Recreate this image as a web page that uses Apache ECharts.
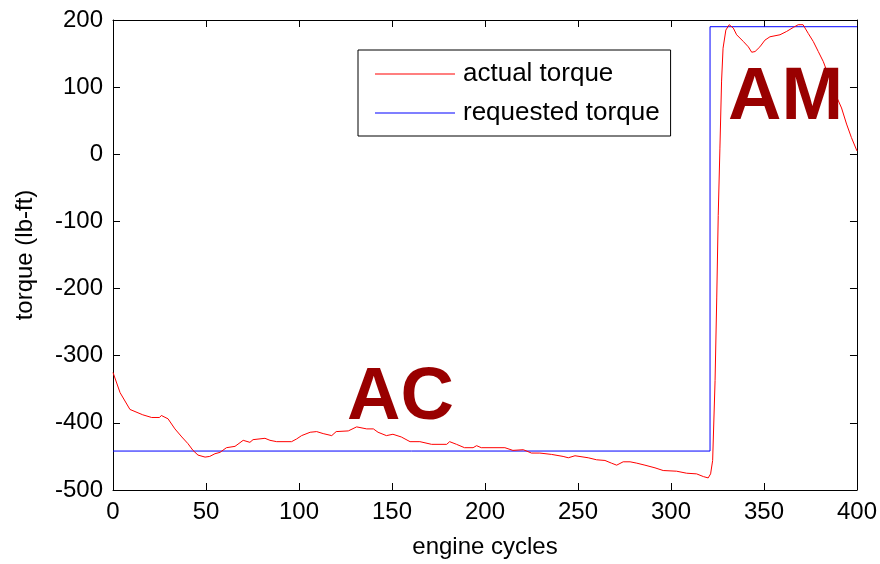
<!DOCTYPE html>
<html>
<head>
<meta charset="utf-8">
<script src="https://cdn.jsdelivr.net/npm/echarts@6/dist/echarts.min.js"></script>
<style>
  html, body { margin: 0; padding: 0; background: #fff; }
  #chart { width: 880px; height: 564px; }
</style>
</head>
<body>
<div id="chart"></div>
<script>
// actual torque (engine cycle, lb-ft)
const actualX = [0, 3.8, 9.1, 16, 20.8, 25, 26, 29.6, 33.3, 37, 40.3, 43, 45.7, 49.5, 52, 54.8, 57.5, 61, 65.6, 70,
  73.6, 75.3, 81.7, 84.4, 88, 96, 98.7, 101.4, 106, 109.5, 113, 117.6, 120, 126.5, 131, 136.4, 140, 142.5, 147, 150.5,
  155, 159.7, 165, 171.3, 179.4, 181, 184.7, 189, 193.6, 195.5, 198, 210.7, 215, 220.6, 225, 229.5, 235.8, 242, 244.8, 248.4,
  255.5, 260, 264.5, 268, 270.8, 274.3, 278, 281.6, 286, 291.4, 295.8, 303, 308.4, 313.8, 317.4, 320, 321.3, 322.4, 323.7, 324.6,
  325.4, 326.3, 327.2, 328, 329.5, 331.3, 333.5, 335.3, 338.9, 341.6, 343.4, 345.2, 347.8, 350.5, 353.2, 358.6, 362.2, 365.8, 368.4, 371,
  373.8, 376.5, 379.2, 381.9, 385, 388, 391.7, 394.4, 397, 400];
const actualY = [-325, -355, -380, -388, -392, -392, -389, -394, -409, -421, -431, -441, -448, -451, -450, -446, -444, -437, -435, -426,
  -429, -425, -423, -426, -428, -428, -424, -419, -414, -413, -416, -419, -413, -412, -406, -409, -409, -414, -419, -417,
  -421, -428, -428, -432, -432, -428, -432, -437, -437, -434, -437, -437, -441, -440, -445, -445, -447, -450, -452, -449,
  -452, -455, -456, -460, -463, -458, -458, -460, -463, -467, -471, -472, -475, -476, -480, -482, -476, -456, -337, -214,
  -91, 8, 109, 158, 185, 193, 188, 178, 168, 160, 152, 153, 160, 170, 175, 178, 183, 189, 193, 193,
  180, 168, 153, 138, 115, 92, 69, 45, 25, 5];

// requested torque (step)
const requestedX = [0, 321, 321, 400];
const requestedY = [-442, -442, 190, 190];

const xTicks = { min: 0, max: 400, interval: 50 };
const yTicks = { min: -500, max: 200, interval: 100 };

const FONT = 'Liberation Sans, Arial, Helvetica, sans-serif';

const chart = echarts.init(document.getElementById('chart'));

const axisCommon = {
  axisLine: { show: true, onZero: false, lineStyle: { color: '#000', width: 1 } },
  axisTick: { show: true, inside: true, length: 7, lineStyle: { color: '#000' } },
  splitLine: { show: false },
  axisLabel: { color: '#000', fontSize: 24, fontFamily: FONT, margin: 10 }
};

const option = {
  animation: false,
  backgroundColor: '#fff',
  grid: { left: 113, right: 23, top: 20, bottom: 71 },
  legend: {
    orient: 'vertical',
    left: 358,
    top: 50,
    icon: 'rect',
    itemWidth: 80,
    itemHeight: 1,
    itemGap: 13,
    padding: [11, 11, 10, 17],
    borderColor: '#000',
    borderWidth: 1,
    borderRadius: 0,
    backgroundColor: '#fff',
    textStyle: { color: '#000', fontSize: 26, fontFamily: FONT, padding: [0, 0, 0, 3] },
    data: ['actual torque', 'requested torque']
  },
  xAxis: [
    Object.assign({}, axisCommon, {
      type: 'value', min: xTicks.min, max: xTicks.max, interval: xTicks.interval,
      name: 'engine cycles', nameLocation: 'middle', nameGap: 45,
      nameTextStyle: { color: '#000', fontSize: 24, fontFamily: FONT }
    }),
    Object.assign({}, axisCommon, {
      type: 'value', position: 'top', min: xTicks.min, max: xTicks.max, interval: xTicks.interval,
      axisLabel: { show: false }
    })
  ],
  yAxis: [
    Object.assign({}, axisCommon, {
      type: 'value', min: yTicks.min, max: yTicks.max, interval: yTicks.interval,
      name: 'torque (lb-ft)', nameLocation: 'middle', nameGap: 76, nameRotate: 90,
      nameTextStyle: { color: '#000', fontSize: 24, fontFamily: FONT }
    }),
    Object.assign({}, axisCommon, {
      type: 'value', position: 'right', min: yTicks.min, max: yTicks.max, interval: yTicks.interval,
      axisLabel: { show: false }
    })
  ],
  series: [
    {
      name: 'actual torque',
      type: 'line',
      symbol: 'none',
      color: '#ff0000',
      lineStyle: { color: '#ff0000', width: 1 },
      data: actualX.map((x, i) => [x, actualY[i]]),
      z: 3
    },
    {
      name: 'requested torque',
      type: 'line',
      symbol: 'none',
      color: '#0000ff',
      lineStyle: { color: '#0000ff', width: 1 },
      data: requestedX.map((x, i) => [x, requestedY[i]]),
      z: 2
    }
  ],
  graphic: [
    {
      type: 'text', left: 347, top: 362, z: 100,
      style: { text: 'AC', fill: '#990000', font: 'bold 74px ' + FONT }
    },
    {
      type: 'text', left: 728, top: 62, z: 100,
      style: { text: 'AM', fill: '#990000', font: 'bold 74px ' + FONT }
    }
  ]
};

chart.setOption(option);
</script>
</body>
</html>
